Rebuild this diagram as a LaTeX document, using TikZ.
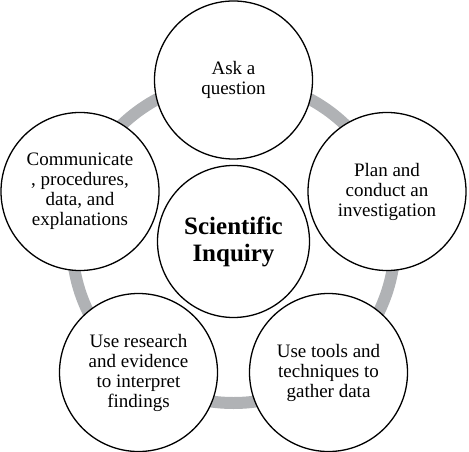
\documentclass[tikz,border=0pt]{standalone}
\usepackage{fontspec}
\setmainfont{Liberation Serif}
\definecolor{ringgray}{RGB}{176,178,181}
\begin{document}
\begin{tikzpicture}[x=1bp,y=-1bp,
  stage/.style={circle,draw=black,line width=1.3bp,fill=white,minimum size=158bp,inner sep=0pt,align=center,font=\fontsize{19bp}{20bp}\selectfont},
  hub/.style={circle,draw=black,line width=1.3bp,fill=white,minimum size=152bp,inner sep=0pt,align=center,font=\fontsize{25bp}{27bp}\selectfont\bfseries},
  ring/.style={draw=ringgray,line width=12bp}]
\useasboundingbox (0,0) rectangle (469,452);
\coordinate (c) at (233.5,241.5);
\draw[ring] (c) circle (161.5);
\node[hub] (hubnode) at (c) {Scientific\\Inquiry};
\node[stage] (ask) at (233.5,80) {Ask a\\question};
\node[stage] (plan) at (387,191.5) {Plan and\\conduct an\\investigation};
\node[stage] (tools) at (328.5,372.5) {Use tools and\\techniques to\\gather data};
\node[stage] (research) at (138.5,372.5) {Use research\\and evidence\\to interpret\\findings};
\node[stage] (comm) at (80,191.5) {Communicate\\, procedures,\\data, and\\explanations};
\end{tikzpicture}
\end{document}
